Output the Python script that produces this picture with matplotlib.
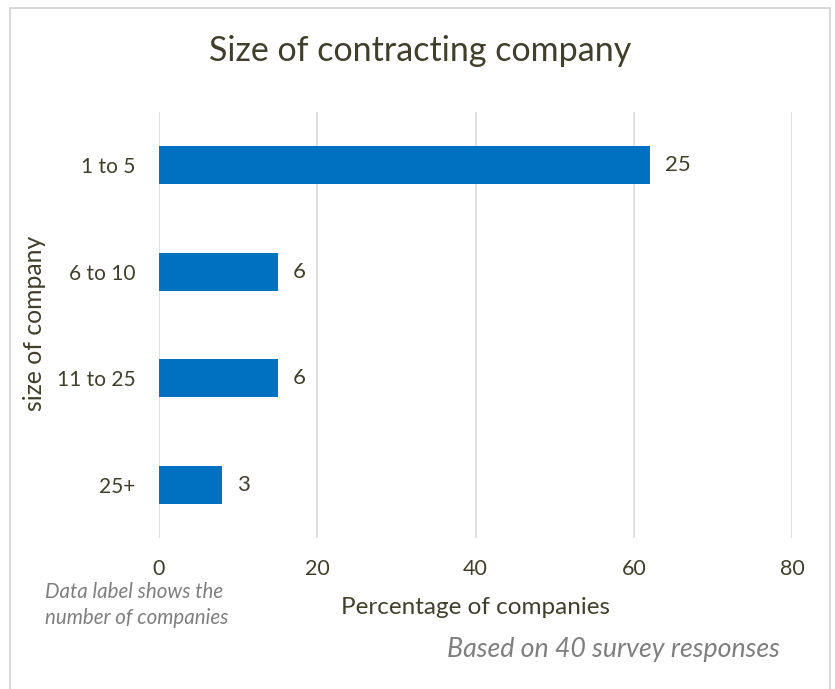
import matplotlib
matplotlib.use("Agg")
import matplotlib.pyplot as plt
from matplotlib.patches import Rectangle

categories = ["1 to 5", "6 to 10", "11 to 25", "25+"]
percentages = [62, 15, 15, 8]
counts = [25, 6, 6, 3]
x_ticks = [0, 20, 40, 60, 80]

plt.rcParams['font.family'] = ['Lato', 'DejaVu Sans']
TXT = '#403F2C'
GRAY = '#7F7F7F'
BAR = '#0070C0'

W, H = 835, 689
fig = plt.figure(figsize=(W / 100, H / 100), dpi=100)
ax = fig.add_axes([159 / W, 1 - 538 / H, (792 - 159) / W, (538 - 112) / H])

ypos = list(range(len(categories)))
ax.barh(ypos, percentages, height=0.355, color=BAR, zorder=3)
for y, v, c in zip(ypos, percentages, counts):
    ax.text(v + 1.9, y, str(c), va='center', ha='left', fontsize=16, color=TXT)

ax.set_xlim(0, 80)
ax.set_ylim(3.5, -0.5)
ax.set_xticks(x_ticks)
ax.set_xticklabels([str(t) for t in x_ticks], fontsize=15.5, color=TXT)
ax.set_yticks(ypos)
ax.set_yticklabels(categories, fontsize=15, color=TXT)
ax.tick_params(axis='both', length=0)
ax.tick_params(axis='y', pad=17)
ax.tick_params(axis='x', pad=15)
ax.grid(axis='x', color='#D9D9D9', linewidth=1.2, zorder=0)
for s in ax.spines.values():
    s.set_visible(False)

fig.text(420 / W, 1 - 51 / H, "Size of contracting company", ha='center', va='center',
         fontsize=24.5, color=TXT)
fig.text(35 / W, 1 - 323 / H, "size of company", ha='center', va='center',
         rotation=90, fontsize=17.8, color=TXT)
fig.text(475 / W, 1 - 607 / H, "Percentage of companies", ha='center', va='center',
         fontsize=17.5, color=TXT)
fig.text(45 / W, 1 - 605 / H, "Data label shows the\nnumber of companies", ha='left',
         va='center', fontsize=14.8, color=GRAY, style='italic', linespacing=1.4)
fig.text(780 / W, 1 - 650 / H, "Based on 40 survey responses", ha='right', va='center',
         fontsize=19.3, color=GRAY, style='italic')

fig.add_artist(Rectangle((10 / W, -0.02), (830 - 10) / W, 1.02 - 8 / H,
                         transform=fig.transFigure, fill=False,
                         edgecolor='#D9D9D9', linewidth=1.5))

fig.savefig("out.png", dpi=100)
